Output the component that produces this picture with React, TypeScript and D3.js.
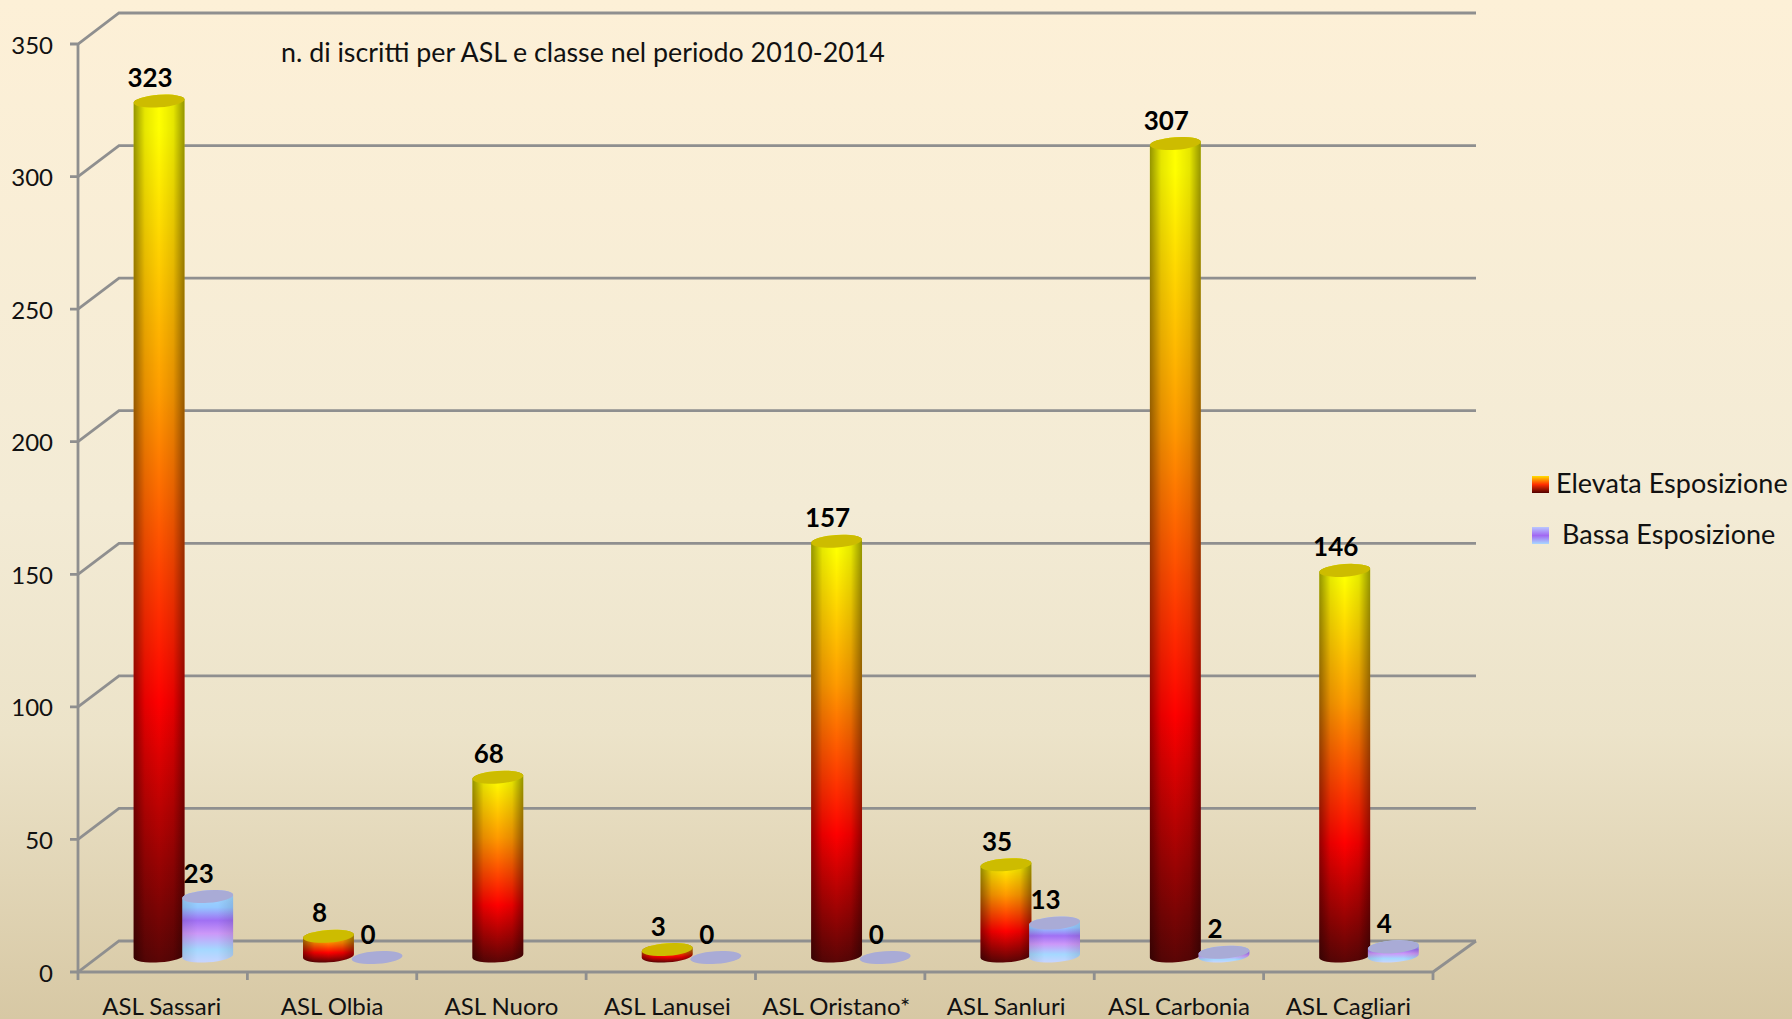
import React from "react";
import * as d3 from "d3";

const categories = ["ASL Sassari", "ASL Olbia", "ASL Nuoro", "ASL Lanusei", "ASL Oristano*", "ASL Sanluri", "ASL Carbonia", "ASL Cagliari"];
const elevata: (number | null)[] = [323, 8, 68, 3, 157, 35, 307, 146];
const bassa: (number | null)[] = [23, 0, null, 0, 0, 13, 2, 4];
const yTicks = [0, 50, 100, 150, 200, 250, 300, 350];
const seriesNames = ["Elevata Esposizione", "Bassa Esposizione"];
const title = "n. di iscritti per ASL e classe nel periodo 2010-2014";

const W = 1792, H = 1019;
const FONT = "Lato, 'Open Sans', sans-serif";
const GRID = "#8f8f8f";
const DX = 41, DXR = 43, DY = 31;
const x = d3.scaleBand().domain(categories).range([78, 1433]);
const y = d3.scaleLinear().domain([0, 350]).range([972, 44]);
const BASE_LIFT = 14.5;
const BOTTOM_LIFT = 16;
const RX = 25.5, RY = 6.3, TILT = 4;
const sin = Math.sin((TILT * Math.PI) / 180), cos = Math.cos((TILT * Math.PI) / 180);
const labelNudge = [-1, 0, 0, -3.5, -4, -3.5, 0, 0];

function cylinder(cx: number, v: number) {
  const yb = y(0) - BOTTOM_LIFT;
  const yt = y(v) - BASE_LIFT;
  const lx = cx - RX * cos, rx = cx + RX * cos;
  const p = `M${lx},${yt + RX * sin} L${lx},${yb + RX * sin} A${RX},${RY} ${-TILT} 0 0 ${rx},${yb - RX * sin} L${rx},${yt - RX * sin} A${RX},${RY} ${-TILT} 0 0 ${lx},${yt + RX * sin} Z`;
  return { p, yt };
}

function Bar({ cx, v, fill, cap, shade }: { cx: number; v: number; fill: string; cap: string; shade: string }) {
  const { p, yt } = cylinder(cx, v);
  return (
    <g>
      {v > 0 && <path d={p} fill={fill} />}
      {v > 0 && <path d={p} fill={shade} />}
      <ellipse cx={cx} cy={yt} rx={RX} ry={RY} fill={cap} transform={`rotate(${-TILT} ${cx} ${yt})`} />
    </g>
  );
}

export default function App() {
  const band = x.bandwidth();
  const elevX = (c: string) => (x(c) as number) + band / 2 - 3.6;
  const bassaX = (c: string) => elevX(c) + 48.6;
  return (
    <svg width={W} height={H} viewBox={`0 0 ${W} ${H}`} style={{ position: "fixed", left: 0, top: 0 }} fontFamily={FONT}>
      <defs>
        <linearGradient id="bg" x1="0" y1="0" x2="0" y2="1">
          <stop offset="0" stopColor="#fdf0d7" />
          <stop offset="0.5" stopColor="#f3ebd5" />
          <stop offset="0.72" stopColor="#ece3c9" />
          <stop offset="1" stopColor="#d7c8a4" />
        </linearGradient>
        <linearGradient id="elev" x1="0" y1="1" x2="0" y2="0">
          <stop offset="0" stopColor="#5a0505" />
          <stop offset="0.3" stopColor="#ff0000" />
          <stop offset="0.65" stopColor="#ff9a00" />
          <stop offset="0.96" stopColor="#ffff00" />
          <stop offset="1" stopColor="#ffff00" />
        </linearGradient>
        <linearGradient id="bass" x1="0" y1="1" x2="0" y2="0">
          <stop offset="0" stopColor="#c8d4ff" />
          <stop offset="0.18" stopColor="#a4d8ff" />
          <stop offset="0.4" stopColor="#cc98f8" />
          <stop offset="0.58" stopColor="#a070f4" />
          <stop offset="0.76" stopColor="#94c8ff" />
          <stop offset="0.88" stopColor="#9cd4ff" />
          <stop offset="1" stopColor="#bcd0ff" />
        </linearGradient>
        <linearGradient id="shade" x1="0" y1="0" x2="1" y2="0">
          <stop offset="0" stopColor="#000" stopOpacity="0.42" />
          <stop offset="0.22" stopColor="#000" stopOpacity="0.1" />
          <stop offset="0.5" stopColor="#000" stopOpacity="0" />
          <stop offset="0.78" stopColor="#000" stopOpacity="0.1" />
          <stop offset="1" stopColor="#000" stopOpacity="0.42" />
        </linearGradient>
        <linearGradient id="shadeB" x1="0" y1="0" x2="1" y2="0">
          <stop offset="0" stopColor="#000" stopOpacity="0.1" />
          <stop offset="0.3" stopColor="#000" stopOpacity="0" />
          <stop offset="0.7" stopColor="#000" stopOpacity="0" />
          <stop offset="1" stopColor="#000" stopOpacity="0.1" />
        </linearGradient>
        <linearGradient id="lgE" x1="0" y1="0" x2="0" y2="1">
          <stop offset="0" stopColor="#ffe000" />
          <stop offset="0.5" stopColor="#ff3000" />
          <stop offset="1" stopColor="#500000" />
        </linearGradient>
        <linearGradient id="lgB" x1="0" y1="0" x2="0" y2="1">
          <stop offset="0" stopColor="#b8c8ff" />
          <stop offset="0.5" stopColor="#a268f2" />
          <stop offset="1" stopColor="#a8d8ff" />
        </linearGradient>
      </defs>
      <rect width={W} height={H} fill="url(#bg)" />

      <g stroke={GRID} strokeWidth={2.8} fill="none">
        {yTicks.map((t) => (
          <path key={t} d={`M70,${y(t)} L78,${y(t)} L${78 + DX},${y(t) - DY} L${1433 + DXR},${y(t) - DY}`} />
        ))}
        <path d={`M78,${y(350)} L78,${y(0)} L1433,${y(0)} L${1433 + DXR},${y(0) - DY}`} />
        {d3.range(categories.length + 1).map((i) => (
          <line key={i} x1={78 + i * band} x2={78 + i * band} y1={y(0)} y2={y(0) + 8} />
        ))}
      </g>

      <g fontSize={24} fill="#111" textAnchor="end">
        {yTicks.map((t) => (
          <text key={t} x={53} y={y(t) + 9.5}>{t}</text>
        ))}
      </g>
      <g fontSize={24} fill="#111" textAnchor="middle">
        {categories.map((c, i) => (
          <text key={c} x={(x(c) as number) + band / 2 + labelNudge[i]} y={1015}>{c}</text>
        ))}
      </g>

      {categories.map((c, i) => (
        <g key={c}>
          {elevata[i] !== null && <Bar cx={elevX(c)} v={elevata[i] as number} fill="url(#elev)" cap="#cdbc00" shade="url(#shade)" />}
          {bassa[i] !== null && <Bar cx={bassaX(c)} v={bassa[i] as number} fill="url(#bass)" cap="#a9abd6" shade="url(#shadeB)" />}
        </g>
      ))}

      <g fontSize={26} fontWeight={700} fill="#000" textAnchor="middle">
        {categories.map((c, i) => (
          <g key={c}>
            {elevata[i] !== null && <text x={elevX(c) - 9} y={y(elevata[i] as number) - BASE_LIFT - 14}>{elevata[i]}</text>}
            {bassa[i] !== null && <text x={bassaX(c) - 9} y={y(bassa[i] as number) - BASE_LIFT - 14}>{bassa[i]}</text>}
          </g>
        ))}
      </g>

      <text x={281} y={62} fontSize={26.8} fill="#111">{title}</text>

      <rect x={1532} y={476} width={17} height={17} fill="url(#lgE)" />
      <rect x={1532} y={527} width={17} height={17} fill="url(#lgB)" />
      <text x={1556} y={493} fontSize={27} fill="#111">{seriesNames[0]}</text>
      <text x={1562} y={544} fontSize={27} fill="#111">{seriesNames[1]}</text>
    </svg>
  );
}
